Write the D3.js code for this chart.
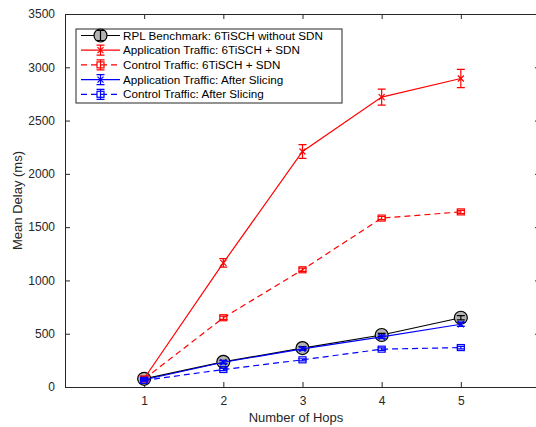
<!DOCTYPE html>
<html>
<head>
<meta charset="utf-8">
<script src="https://cdn.jsdelivr.net/npm/d3@7"></script>
<style>
  body { margin: 0; background: #fff; }
  svg { font-family: "Liberation Sans", Arial, sans-serif; }
</style>
</head>
<body>
<div id="chart"></div>
<script>
// Data
var hops = [1, 2, 3, 4, 5];
var rplDelay = [77, 236, 365, 488, 650];
var rplErr = [15, 15, 15, 15, 20];
var appSdnDelay = [80, 1165, 2210, 2720, 2895];
var appSdnErr = [15, 40, 65, 75, 85];
var ctrlSdnDelay = [75, 650, 1100, 1585, 1643];
var ctrlSdnErr = [10, 15, 15, 15, 15];
var appSliceDelay = [68, 232, 358, 471, 589];
var appSliceErr = [10, 15, 15, 15, 20];
var ctrlSliceDelay = [62, 164, 255, 355, 370];
var ctrlSliceErr = [8, 10, 10, 12, 12];
var yTicks = [0, 500, 1000, 1500, 2000, 2500, 3000, 3500];

var series = [
  {name: "RPL Benchmark: 6TiSCH without SDN", y: rplDelay, e: rplErr, color: "#000", dash: null, marker: "circle"},
  {name: "Application Traffic: 6TiSCH + SDN", y: appSdnDelay, e: appSdnErr, color: "#ff0000", dash: null, marker: "x"},
  {name: "Control Traffic: 6TiSCH + SDN", y: ctrlSdnDelay, e: ctrlSdnErr, color: "#ff0000", dash: "6,4", marker: "square"},
  {name: "Application Traffic: After Slicing", y: appSliceDelay, e: appSliceErr, color: "#0000ff", dash: null, marker: "x"},
  {name: "Control Traffic: After Slicing", y: ctrlSliceDelay, e: ctrlSliceErr, color: "#0000ff", dash: "6,4", marker: "square"}
];

var svgWidth = 536, svgHeight = 427;
var margin = {top: 14, right: -4, bottom: 40, left: 65};
var chartWidth = svgWidth - margin.left - margin.right;
var chartHeight = svgHeight - margin.top - margin.bottom;

var svg = d3.select("#chart").append("svg")
    .attr("width", svgWidth)
    .attr("height", svgHeight);

var chartGroup = svg.append("g")
    .attr("transform", `translate(${margin.left}, ${margin.top})`);

var x = d3.scaleLinear().domain([0, 6]).range([0, chartWidth]);
var y = d3.scaleLinear().domain([0, 3500]).range([chartHeight, 0]);

// axes, MATLAB style: ticks pointing inward, box on
var bottomAxis = d3.axisBottom(x).tickValues(hops).tickFormat(d3.format("d"))
    .tickSizeInner(-5).tickSizeOuter(0).tickPadding(9);
var leftAxis = d3.axisLeft(y).tickValues(yTicks).tickFormat(d3.format("d"))
    .tickSizeInner(-5).tickSizeOuter(0).tickPadding(10);
var topAxis = d3.axisTop(x).tickValues(hops).tickSizeInner(-5).tickSizeOuter(0).tickFormat("");
var rightAxis = d3.axisRight(y).tickValues(yTicks).tickSizeInner(-5).tickSizeOuter(0).tickFormat("");

function styleAxis(g) {
  g.selectAll("path").attr("stroke", "#262626");
  g.selectAll("line").attr("stroke", "#262626");
  g.selectAll("text").attr("fill", "#262626").style("font-size", "12px");
}

chartGroup.append("g").attr("transform", `translate(0, ${chartHeight})`).call(bottomAxis).call(styleAxis);
chartGroup.append("g").call(leftAxis).call(styleAxis);
chartGroup.append("g").call(topAxis).call(styleAxis);
chartGroup.append("g").attr("transform", `translate(${chartWidth}, 0)`).call(rightAxis).call(styleAxis);

// marker drawing
function drawMarker(g, type, color, cx, cy) {
  if (type == "circle") {
    g.append("circle").attr("cx", cx).attr("cy", cy).attr("r", 6.5)
      .attr("fill", "#b3b3b3").attr("stroke", "#000").attr("stroke-width", 1.2);
  } else if (type == "x") {
    g.append("path")
      .attr("d", `M${cx-3},${cy-3}L${cx+3},${cy+3}M${cx-3},${cy+3}L${cx+3},${cy-3}`)
      .attr("stroke", color).attr("stroke-width", 1.2);
  } else {
    g.append("rect").attr("x", cx - 3.5).attr("y", cy - 3).attr("width", 7).attr("height", 6)
      .attr("fill", "none").attr("stroke", color).attr("stroke-width", 1.2);
  }
}

var line = d3.line().x((d, i) => x(hops[i])).y(d => y(d));

series.forEach(function(s) {
  var g = chartGroup.append("g");
  g.append("path")
    .datum(s.y)
    .attr("d", line)
    .attr("fill", "none")
    .attr("stroke", s.color)
    .attr("stroke-width", 1.2)
    .attr("stroke-dasharray", s.dash);
  s.y.forEach(function(v, i) {
    var cx = x(hops[i]);
    var cy = y(v);
    if (s.marker == "circle") drawMarker(g, s.marker, s.color, cx, cy);
    var y1 = y(v - s.e[i]), y2 = y(v + s.e[i]);
    g.append("path")
      .attr("d", `M${cx},${y1}L${cx},${y2}M${cx-4},${y1}L${cx+4},${y1}M${cx-4},${y2}L${cx+4},${y2}`)
      .attr("stroke", s.color).attr("stroke-width", 1.2).attr("fill", "none");
    if (s.marker != "circle") drawMarker(g, s.marker, s.color, cx, cy);
  });
});

// axis titles
chartGroup.append("text")
    .attr("transform", "rotate(-90)")
    .attr("x", -chartHeight / 2)
    .attr("y", -43)
    .attr("text-anchor", "middle")
    .attr("fill", "#262626")
    .style("font-size", "13px")
    .text("Mean Delay (ms)");

svg.append("text")
    .attr("x", 296)
    .attr("y", 422)
    .attr("text-anchor", "middle")
    .attr("fill", "#262626")
    .style("font-size", "13px")
    .text("Number of Hops");

// legend
var legend = svg.append("g").attr("transform", "translate(76, 29)");
legend.append("rect").attr("width", 266).attr("height", 74)
    .attr("fill", "#fff").attr("stroke", "#262626").attr("stroke-width", 1);

series.forEach(function(s, i) {
  var ly = 6.5 + i * 14.7;
  var lg = legend.append("g");
  lg.append("line").attr("x1", 5).attr("x2", 44).attr("y1", ly).attr("y2", ly)
    .attr("stroke", s.color).attr("stroke-width", 1.2).attr("stroke-dasharray", s.dash);
  if (s.marker == "circle") drawMarker(lg, s.marker, s.color, 24.5, ly);
  lg.append("path")
    .attr("d", `M24.5,${ly-5}L24.5,${ly+5}M20.5,${ly-5}L28.5,${ly-5}M20.5,${ly+5}L28.5,${ly+5}`)
    .attr("stroke", s.color).attr("stroke-width", 1.2).attr("fill", "none");
  if (s.marker != "circle") drawMarker(lg, s.marker, s.color, 24.5, ly);
  lg.append("text").attr("x", 47).attr("y", ly + 4)
    .attr("fill", "#000").style("font-size", "11.7px").text(s.name);
});
</script>
</body>
</html>
